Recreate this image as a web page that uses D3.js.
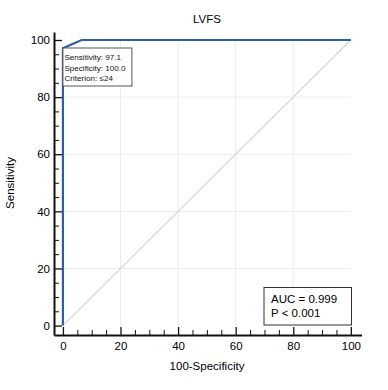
<!DOCTYPE html>
<html><head><meta charset="utf-8">
<script src="https://cdn.jsdelivr.net/npm/d3@7"></script>
<style>body{margin:0;background:#fff}svg{display:block;font-family:"Liberation Sans",Arial,sans-serif}</style>
</head><body><div id="chart"></div>
<script>
const title = "LVFS";
const xLabel = "100-Specificity";
const yLabel = "Sensitivity";
const rocX = [0, 0, 6.5, 100];
const rocY = [0, 97.1, 100, 100];
const diagX = [0, 100];
const diagY = [0, 100];
const majorTicks = [0, 20, 40, 60, 80, 100];
const minorTicks = [5, 10, 15, 25, 30, 35, 45, 50, 55, 65, 70, 75, 85, 90, 95];
const cutoffLines = ["Sensitivity: 97.1", "Specificity: 100.0", "Criterion: \u226424"];
const statLines = ["AUC = 0.999", "P < 0.001"];

const W = 388, H = 390;
const svg = d3.select("#chart").append("svg").attr("width", W).attr("height", H);
const x = d3.scaleLinear().domain([-3.1, 103.7]).range([54, 361.5]);
const y = d3.scaleLinear().domain([-3.3, 102.8]).range([335, 32]);

// grid
const g = svg.append("g");
g.selectAll(".gx").data(majorTicks.filter(d => d > 0 && d < 100)).join("line")
  .attr("x1", d => x(d)).attr("x2", d => x(d)).attr("y1", y(0)).attr("y2", y(100))
  .attr("stroke", "#ececec").attr("stroke-width", 1);
g.selectAll(".gy").data(majorTicks.filter(d => d > 0 && d < 100)).join("line")
  .attr("y1", d => y(d)).attr("y2", d => y(d)).attr("x1", x(0)).attr("x2", x(100))
  .attr("stroke", "#ececec").attr("stroke-width", 1);

// diagonal
const line = d3.line().x(d => x(d[0])).y(d => y(d[1]));
svg.append("path").datum(diagX.map((v, i) => [v, diagY[i]])).attr("d", line)
  .attr("fill", "none").attr("stroke", "#d9d5d3").attr("stroke-width", 1.2);

// ROC curve
svg.append("path").datum(rocX.map((v, i) => [v, rocY[i]])).attr("d", line)
  .attr("fill", "none").attr("stroke", "#2f5ea8").attr("stroke-width", 2.2)
  .attr("stroke-linejoin", "miter");

// axes
const xAxis = svg.append("g").attr("transform", `translate(0,${y.range()[0]})`)
  .call(d3.axisBottom(x).tickValues(majorTicks).tickSizeInner(-8).tickSizeOuter(0).tickPadding(7));
const xMinor = svg.append("g").attr("transform", `translate(0,${y.range()[0]})`)
  .call(d3.axisBottom(x).tickValues(minorTicks).tickSizeInner(-5).tickSizeOuter(0).tickFormat(""));
const yAxis = svg.append("g").attr("transform", `translate(${x.range()[0]},0)`)
  .call(d3.axisLeft(y).tickValues(majorTicks).tickSizeInner(-8).tickSizeOuter(0).tickPadding(4));
const yMinor = svg.append("g").attr("transform", `translate(${x.range()[0]},0)`)
  .call(d3.axisLeft(y).tickValues(minorTicks).tickSizeInner(-5).tickSizeOuter(0).tickFormat(""));
[xAxis, yAxis].forEach(a => {
  a.select(".domain").attr("stroke", "#111").attr("stroke-width", 2);
  a.selectAll(".tick line").attr("stroke", "#111").attr("stroke-width", 1.3);
  a.selectAll(".tick text").attr("font-size", 11.5).attr("fill", "#000")
    .attr("font-family", "'Liberation Sans',Arial,sans-serif");
});
[xMinor, yMinor].forEach(a => {
  a.select(".domain").remove();
  a.selectAll(".tick line").attr("stroke", "#111").attr("stroke-width", 1);
});

// titles
svg.append("text").attr("x", 207).attr("y", 23).attr("text-anchor", "middle")
  .attr("font-size", 11.5).attr("fill", "#000").text(title);
svg.append("text").attr("x", 207).attr("y", 370).attr("text-anchor", "middle")
  .attr("font-size", 11.5).attr("fill", "#000").text(xLabel);
svg.append("text").attr("transform", "translate(14,183) rotate(-90)").attr("text-anchor", "middle")
  .attr("font-size", 11.5).attr("fill", "#000").text(yLabel);

// cutoff box
const bx = x(0), by = 48;
svg.append("rect").attr("x", bx).attr("y", by).attr("width", 69).attr("height", 38)
  .attr("fill", "#fff").attr("stroke", "#555").attr("stroke-width", 1);
svg.append("g").selectAll("text").data(cutoffLines).join("text")
  .attr("x", bx + 1.5).attr("y", (d, i) => by + 12 + i * 10.5)
  .attr("font-size", 8.1).attr("fill", "#111").text(d => d);

// stats box
svg.append("rect").attr("x", 264).attr("y", 287.5).attr("width", 87.5).attr("height", 37.5)
  .attr("fill", "#fff").attr("stroke", "#333").attr("stroke-width", 1);
svg.append("g").selectAll("text").data(statLines).join("text")
  .attr("x", 271).attr("y", (d, i) => 303 + i * 13.5)
  .attr("font-size", 11.5).attr("fill", "#000").text(d => d);
</script></body></html>
